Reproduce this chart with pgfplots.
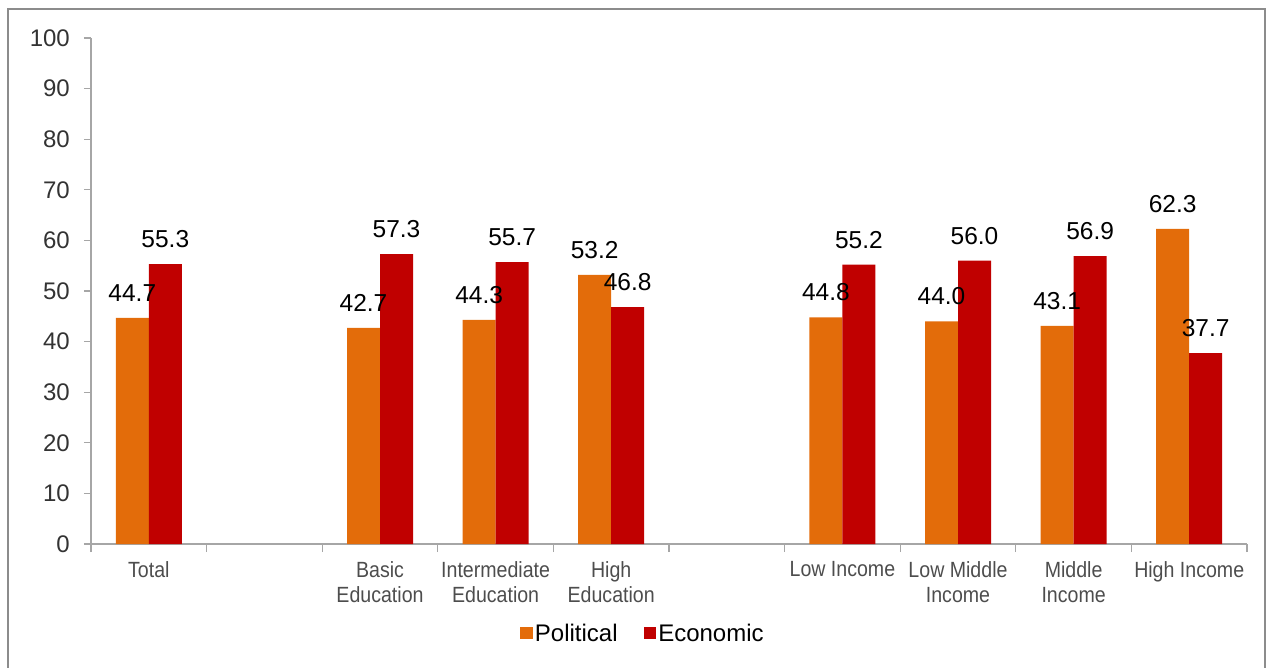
\documentclass[border=0pt]{standalone}
\usepackage{fontspec}
\setmainfont{Liberation Sans}
\newfontfamily\narrowfont[FakeStretch=0.89]{Liberation Sans}
\usepackage{pgfplots}
\pgfplotsset{compat=1.18}
\definecolor{polorange}{RGB}{227,108,10}
\definecolor{ecored}{RGB}{192,0,0}
\definecolor{axisgray}{RGB}{166,166,166}
\definecolor{framegray}{RGB}{140,140,140}
\definecolor{ticktext}{RGB}{51,51,51}
\definecolor{cattext}{RGB}{77,77,77}
\begin{document}
\begin{tikzpicture}
\path[use as bounding box] (0pt,0pt) rectangle (1266pt,667pt);
\draw[framegray, line width=2pt] (8pt,-5pt) -- (8pt,658pt) -- (1265pt,658pt) -- (1265pt,-5pt);
\begin{axis}[
  at={(91pt,123pt)}, anchor=south west,
  scale only axis, width=1156pt, height=506pt,
  xmin=-0.5, xmax=9.5, ymin=0, ymax=100,
  /pgf/number format/assume math mode=true,
  axis x line*=bottom, axis y line*=left,
  axis line style={-, draw=axisgray, line width=1.4pt},
  ytick={0,10,...,100},
  tick align=outside,
  major tick length=7pt,
  minor tick length=8pt,
  ytick style={draw=axisgray, line width=1.2pt},
  yticklabel style={font=\fontsize{24}{28}\selectfont, text=ticktext, anchor=east, inner sep=0pt, xshift=-14pt},
  xtick={0,...,9},
  xticklabels={Total,{},{Basic\\Education},{Intermediate\\Education},{High\\Education},{},{Low Income},{Low Middle\\Income},{Middle\\Income},{High Income}},
  minor xtick={-0.5,0.5,...,9.5},
  major x tick style={draw=none},
  minor x tick style={draw=axisgray, line width=1.2pt},
  xticklabel style={font=\narrowfont\fontsize{22}{25}\selectfont, text=cattext, align=center, anchor=north, inner sep=0pt, yshift=-10pt},
  ybar=0pt, bar width=33pt,
  nodes near coords={\pgfmathprintnumber[fixed,fixed zerofill,precision=1]{\pgfplotspointmeta}},
  every node near coord/.append style={font=\fontsize{24.5}{28}\selectfont, text=black, anchor=base, inner sep=0pt, yshift=16.5pt},
  legend style={at={(0.4775,-0.176)}, anchor=center, draw=none, fill=none, legend columns=2,
    font=\fontsize{24}{28}\selectfont, /tikz/every even column/.append style={column sep=24pt}},
  legend image code/.code={\fill[#1] (0pt,-6.3pt) rectangle (12.6pt,6.3pt);},
]
\addplot[fill=polorange, draw=none] coordinates {(0,44.7) (2,42.7) (3,44.3) (4,53.2) (6,44.8) (7,44.0) (8,43.1) (9,62.3)};
\addplot[fill=ecored, draw=none] coordinates {(0,55.3) (2,57.3) (3,55.7) (4,46.8) (6,55.2) (7,56.0) (8,56.9) (9,37.7)};
\legend{Political,Economic}
\end{axis}
\end{tikzpicture}
\end{document}
